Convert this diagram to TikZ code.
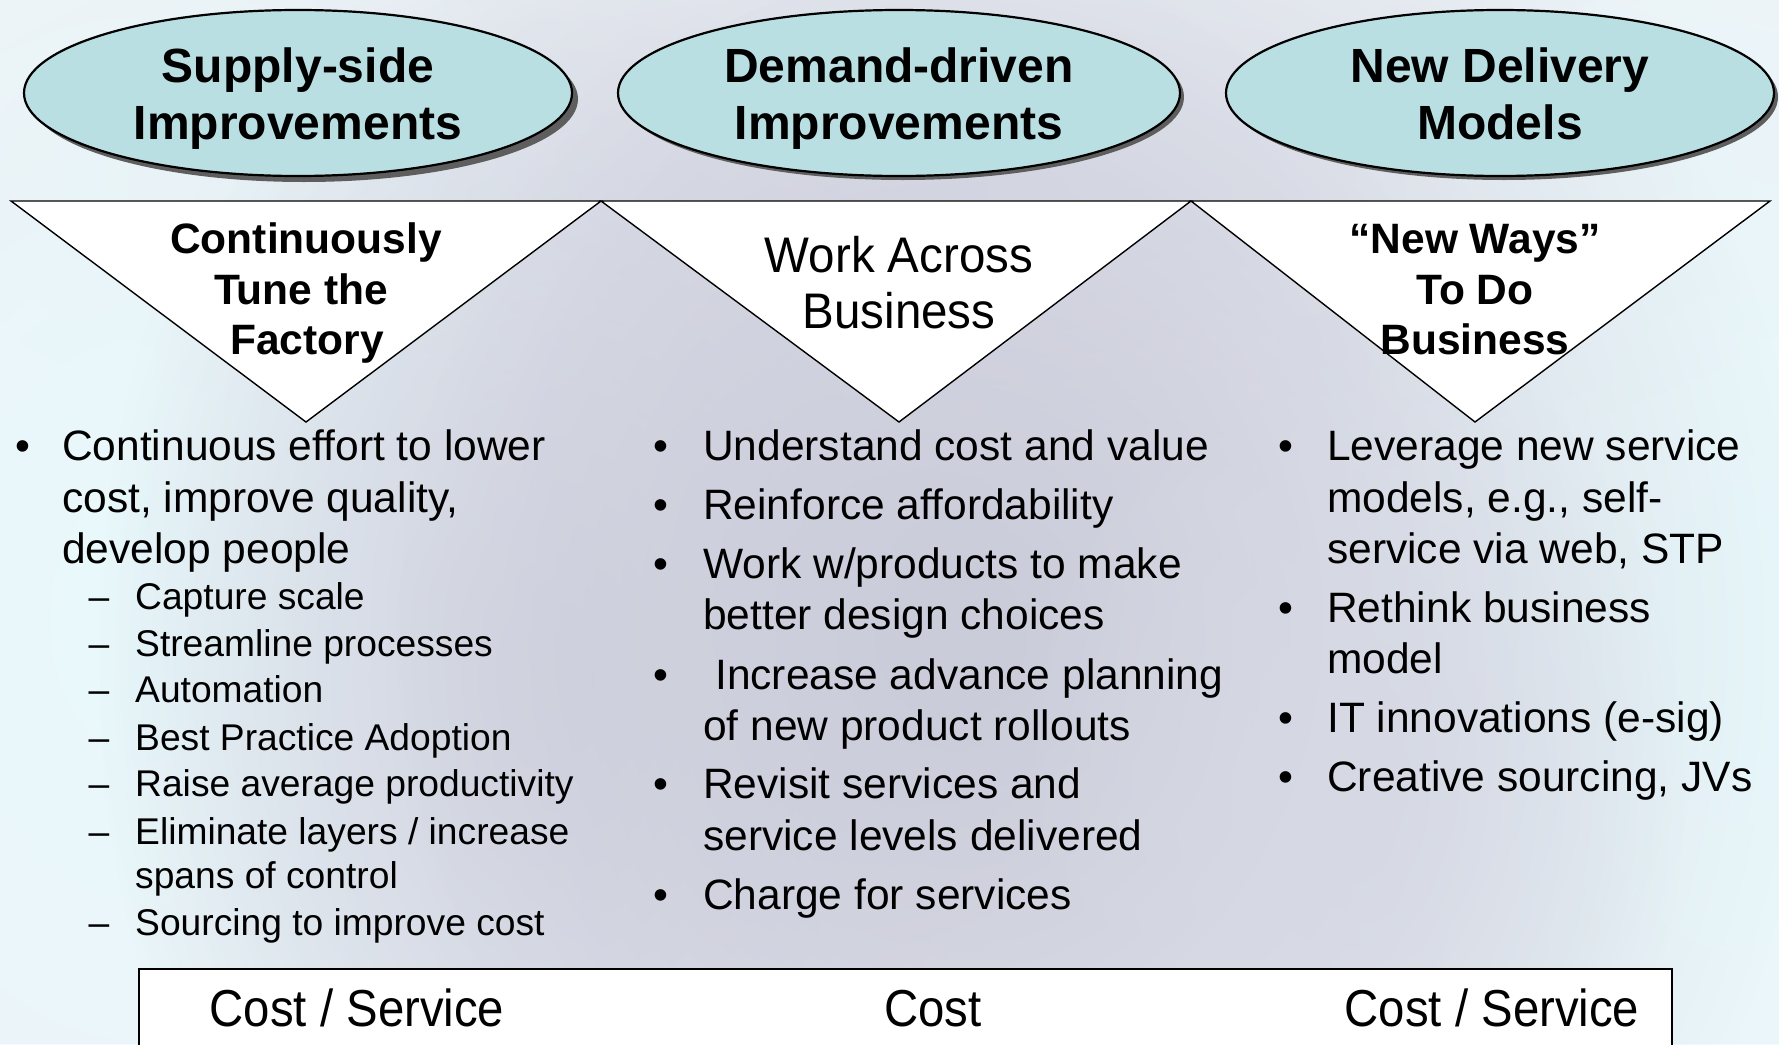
\documentclass[tikz,border=0pt]{standalone}
\usepackage{fontspec}
\usepackage{graphicx}
\setmainfont{Liberation Sans}
\usetikzlibrary{shapes.geometric,shadows,fadings}

\definecolor{bgbase}{HTML}{EEF3F7}
\definecolor{bggrey}{HTML}{CBCCDA}
\definecolor{bgmist}{HTML}{D6D9E4}
\definecolor{bgcyan}{HTML}{E8F9FC}
\definecolor{ellfill}{HTML}{B9DFE3}
\definecolor{shadowc}{HTML}{5E5E5E}

% soft round blob: opaque in the middle, fading out towards the rim
\tikzfading[name=softblob, inner color=transparent!0, outer color=transparent!100]

\begin{document}
\begin{tikzpicture}[x=1pt, y=-1pt,
  blob/.style={path fading=softblob},
  ellnode/.style={ellipse, draw=black, line width=2.2pt, fill=ellfill,
    minimum width=548pt, minimum height=166pt, inner sep=0pt,
    general shadow={fill=shadowc, shadow xshift=4pt, shadow yshift=-4pt}},
  etitle/.style={font=\fontsize{48}{57}\selectfont\bfseries, anchor=base, inner sep=0pt},
  tri/.style={draw=black, line width=1.4pt, fill=white, line join=miter},
  ttitle/.style={font=\fontsize{42.5}{51}\selectfont\bfseries, anchor=base, inner sep=0pt},
  tplain/.style={font=\fontsize{50}{56}\selectfont, anchor=base, inner sep=0pt},
  bodytxt/.style={font=\fontsize{42.5}{51}\selectfont, anchor=base west, inner sep=0pt},
  subtxt/.style={font=\fontsize{37.2}{47}\selectfont, anchor=base west, inner sep=0pt},
  bul/.style={font=\fontsize{42.5}{51}\selectfont, anchor=base, inner sep=0pt},
  subdash/.style={font=\fontsize{37.2}{47}\selectfont, anchor=base, inner sep=0pt},
  costtxt/.style={font=\fontsize{52}{60}\selectfont, anchor=base, inner sep=0pt},
  costbox/.style={draw=black, line width=1.6pt, fill=white}
]
\useasboundingbox (0,0) rectangle (1779,1044);
\clip (0,0) rectangle (1779,1044);

% washed-out background
\fill[bgbase] (0,0) rectangle (1779,1044);
\fill[bgmist, blob, opacity=0.5] (900,190) ellipse (1000 and 320);
\fill[bgcyan, blob] (150,620) ellipse (600 and 840);
\fill[bgcyan, blob] (1730,640) ellipse (480 and 920);
\fill[bgmist, blob] (560,680) ellipse (460 and 700);
\fill[bggrey, blob] (960,640) ellipse (860 and 960);
\fill[bggrey, blob, opacity=0.6] (960,620) ellipse (560 and 660);
\fill[bgmist, blob] (1345,790) ellipse (340 and 480);

% headline ellipses
\node[ellnode, general shadow={fill=shadowc, shadow xshift=6pt, shadow yshift=-6pt}] (e1) at (298,93) {};
\node[ellnode, minimum width=562pt] (e2) at (899,93) {};
\node[ellnode] (e3) at (1500,93) {};
\node[etitle] (e1a) at (298,82) {Supply-side};
\node[etitle] (e1b) at (298,139) {Improvements};
\node[etitle] (e2a) at (899,82) {Demand-driven};
\node[etitle] (e2b) at (899,139) {Improvements};
\node[etitle] (e3a) at (1500,82) {New Delivery};
\node[etitle] (e3b) at (1500,139) {Models};

% downward triangles
\coordinate (v0) at (11,201);
\coordinate (v1) at (601,201);
\coordinate (v2) at (1191,201);
\coordinate (v3) at (1770,201);
\coordinate (a1) at (306,422);
\coordinate (a2) at (899,422);
\coordinate (a3) at (1475,422);
\filldraw[tri] (v0) -- (a1) -- (v1) -- cycle;
\filldraw[tri] (v1) -- (a2) -- (v2) -- cycle;
\filldraw[tri] (v2) -- (a3) -- (v3) -- cycle;

\node[ttitle] (t1a) at (306,253) {Continuously};
\node[ttitle] (t1b) at (301,304) {Tune the};
\node[ttitle] (t1c) at (307,354) {Factory};
\node[tplain] (t2a) at (899,272) {\scalebox{0.95}[1]{Work Across}};
\node[tplain] (t2b) at (899,328) {\scalebox{0.95}[1]{Business}};
\node[ttitle] (t3a) at (1475,253) {“New Ways”};
\node[ttitle] (t3b) at (1475,304) {To Do};
\node[ttitle] (t3c) at (1475,354) {Business};

% column 1
\node[bul] (b11) at (23,460) {•};
\node[bodytxt] (c1a) at (62,460) {Continuous effort to lower};
\node[bodytxt] (c1b) at (62,512) {cost, improve quality,};
\node[bodytxt] (c1c) at (62,563) {develop people};
\node[subdash] (d1) at (99,609) {–};
\node[subtxt] (s1) at (135,609) {Capture scale};
\node[subdash] (d2) at (99,656) {–};
\node[subtxt] (s2) at (135,656) {Streamline processes};
\node[subdash] (d3) at (99,702) {–};
\node[subtxt] (s3) at (135,702) {Automation};
\node[subdash] (d4) at (99,750) {–};
\node[subtxt] (s4) at (135,750) {Best Practice Adoption};
\node[subdash] (d5) at (99,796) {–};
\node[subtxt] (s5) at (135,796) {Raise average productivity};
\node[subdash] (d6) at (99,844) {–};
\node[subtxt] (s6) at (135,844) {Eliminate layers / increase};
\node[subtxt] (s6b) at (135,888) {spans of control};
\node[subdash] (d7) at (99,935) {–};
\node[subtxt] (s7) at (135,935) {Sourcing to improve cost};

% column 2
\node[bul] (b21) at (661,460) {•};
\node[bodytxt] (c2a) at (703,460) {Understand cost and value};
\node[bul] (b22) at (661,519) {•};
\node[bodytxt] (c2b) at (703,519) {Reinforce affordability};
\node[bul] (b23) at (661,578) {•};
\node[bodytxt] (c2c) at (703,578) {Work w/products to make};
\node[bodytxt] (c2d) at (703,629) {better design choices};
\node[bul] (b24) at (661,689) {•};
\node[bodytxt] (c2e) at (715,689) {Increase advance planning};
\node[bodytxt] (c2f) at (703,740) {of new product rollouts};
\node[bul] (b25) at (661,798) {•};
\node[bodytxt] (c2g) at (703,798) {Revisit services and};
\node[bodytxt] (c2h) at (703,850) {service levels delivered};
\node[bul] (b26) at (661,909) {•};
\node[bodytxt] (c2i) at (703,909) {Charge for services};

% column 3
\node[bul] (b31) at (1286,460) {•};
\node[bodytxt] (c3a) at (1327,460) {Leverage new service};
\node[bodytxt] (c3b) at (1327,512) {models, e.g., self-};
\node[bodytxt] (c3c) at (1327,563) {service via web, STP};
\node[bul] (b32) at (1286,622) {•};
\node[bodytxt] (c3d) at (1327,622) {Rethink business};
\node[bodytxt] (c3e) at (1327,673) {model};
\node[bul] (b33) at (1286,732) {•};
\node[bodytxt] (c3f) at (1327,732) {IT innovations (e-sig)};
\node[bul] (b34) at (1286,791) {•};
\node[bodytxt] (c3g) at (1327,791) {Creative sourcing, JVs};

% outcome bar along the bottom
\node[costbox, anchor=north west, minimum width=1533pt, minimum height=110pt, inner sep=0pt] (bar) at (138,968) {};
\node[costtxt] (k1) at (357,1026) {\scalebox{0.91}[1]{Cost / Service}};
\node[costtxt] (k2) at (933,1026) {\scalebox{0.91}[1]{Cost}};
\node[costtxt] (k3) at (1492,1026) {\scalebox{0.91}[1]{Cost / Service}};
\end{tikzpicture}
\end{document}
